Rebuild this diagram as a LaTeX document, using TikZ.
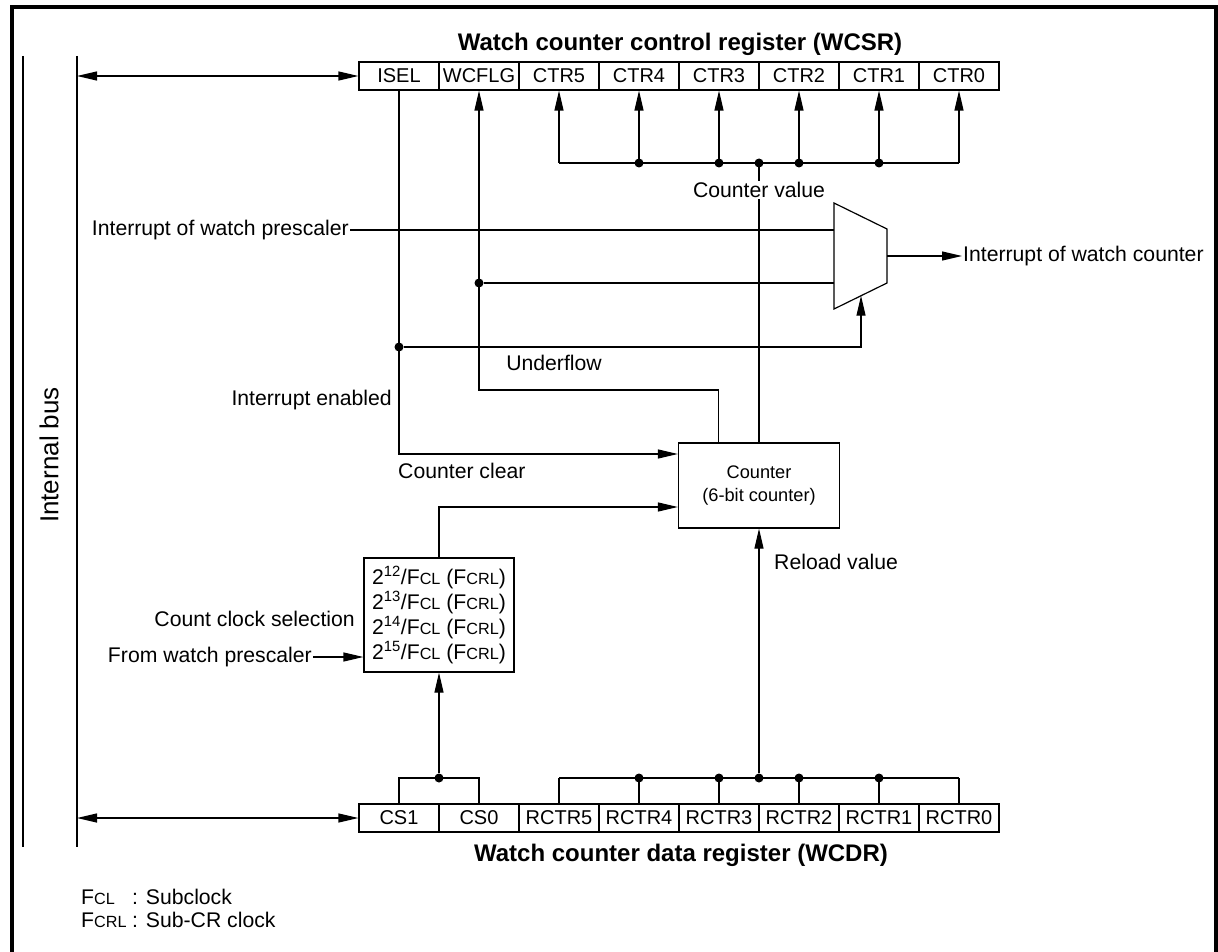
\documentclass[tikz,border=0pt]{standalone}
\usepackage{fontspec}
\setmainfont{Liberation Sans}
\usetikzlibrary{arrows.meta,calc}

\newcommand\lblfont{\fontsize{21.2}{25}\selectfont}
\newcommand\busfont{\fontsize{26}{30}\selectfont}
\newcommand\cellfont{\fontsize{20}{23}\selectfont}
\newcommand\ttlfont{\fontsize{24}{28}\selectfont\bfseries}
\newcommand\cntfont{\fontsize{18.2}{23}\selectfont}
\newcommand\lowcaps[1]{{\fontsize{16.2}{15}\selectfont #1}}

\tikzset{
  wire/.style={line width=1.2pt},
  arr/.style={wire,-{Triangle[length=20pt,width=9pt]}},
  biarr/.style={wire,{Triangle[length=20pt,width=9pt]}-{Triangle[length=20pt,width=9pt]}},
  regcell/.style={draw,line width=1.2pt,minimum width=80pt,minimum height=28pt,inner sep=0pt,font=\cellfont},
  lbl/.style={inner sep=1pt,font=\lblfont},
  ttl/.style={inner sep=1pt,font=\ttlfont},
  junct/.style={circle,fill,inner sep=0pt,minimum size=9pt},
  blk/.style={draw,line width=1.2pt,inner sep=0pt},
}

\begin{document}
\begin{tikzpicture}[x=1pt,y=-1pt]
\useasboundingbox (0,0) rectangle (1218,952);

% outer frame (open at the bottom)
\draw[line width=3.5pt] (12,980) -- (12,7) -- (1216,7) -- (1216,980);

% internal bus
\draw[wire] (23,56) -- (23,847);
\draw[wire] (77,56) -- (77,847);
\node[inner sep=1pt,font=\busfont,rotate=90] (ibus) at (49,455) {Internal bus};
\coordinate (busT) at (77,76);
\coordinate (busB) at (77,818);

% watch counter control register
\node[ttl] (wcsr) at (680,44) {Watch counter control register (WCSR)};
\foreach \n/\t [count=\i from 0] in {isel/ISEL,wcflg/WCFLG,ctr5/CTR5,ctr4/CTR4,ctr3/CTR3,ctr2/CTR2,ctr1/CTR1,ctr0/CTR0}
  \node[regcell] (\n) at (399+80*\i,76) {\t};

% watch counter data register
\node[ttl] (wcdr) at (681,855) {Watch counter data register (WCDR)};
\foreach \n/\t [count=\i from 0] in {cs1/CS1,cs0/CS0,rctr5/RCTR5,rctr4/RCTR4,rctr3/RCTR3,rctr2/RCTR2,rctr1/RCTR1,rctr0/RCTR0}
  \node[regcell] (\n) at (399+80*\i,818) {\t};

\draw[biarr] (busT) -- (isel.west);
\draw[biarr] (busB) -- (cs1.west);

% counter
\node[blk,minimum width=161pt,minimum height=85pt,align=center,font=\cntfont] (cnt) at (759,485.5) {Counter\\(6-bit counter)};

% counter value distribution
\coordinate (cv) at (759,163);
\node[lbl] (cvl) at (759,190) {Counter value};
\draw[wire] (ctr5 |- cv) -- (ctr0 |- cv);
\foreach \n in {ctr5,ctr4,ctr3,ctr2,ctr1,ctr0}
  \draw[arr] (\n |- cv) -- (\n.south);
\foreach \n in {ctr4,ctr3,ctr2,ctr1}
  \node[junct] (cvd-\n) at (\n |- cv) {};
\node[junct] (cvd) at (cv) {};
\draw[wire] (cv) -- (cvl.north);
\draw[wire] (cvl.south) -- (cnt.north);

% interrupt selector
\coordinate (m1) at (834,203);
\coordinate (m2) at (887,229);
\coordinate (m3) at (887,283);
\coordinate (m4) at (834,309);
\draw[wire] (m1) -- (m2) -- (m3) -- (m4) -- cycle;
\coordinate (msel) at ($(m4)!0.51!(m3)$);
\coordinate (mout) at ($(m2)!0.5!(m3)$);

\node[lbl,anchor=east] (iwp) at (350,230) {Interrupt of watch prescaler};
\draw[wire] (iwp.east) -- (iwp.east -| m1);
\node[lbl,anchor=west] (iwc) at (962,256) {Interrupt of watch counter};
\draw[arr] (mout) -- (iwc.west);

% underflow flag
\coordinate (uf) at (0,390);
\draw[arr] ($(cnt.north west)+(40.5,0)$) |- (wcflg.south |- uf) -- (wcflg.south);
\node[junct] (ufd) at (wcflg.south |- m3) {};
\draw[wire] (ufd) -- (ufd -| m4);
\node[lbl] (ufl) at (554,363) {Underflow};

% interrupt select / counter clear
\coordinate (ie) at (0,347);
\draw[arr] (isel.south) |- (cnt.west |- 0,454);
\node[junct] (ied) at (isel.south |- ie) {};
\draw[arr] (ied) -| (msel);
\node[lbl,anchor=east] (iel) at (393,400) {Interrupt enabled};
\node[lbl,anchor=west] (ccl) at (397,471) {Counter clear};

% count clock selection
\node[blk,minimum width=150pt,minimum height=114pt,align=left,font=\lblfont] (clk) at (439,615)
  {2\textsuperscript{12}/F\lowcaps{CL} (F\lowcaps{CRL})\\
   2\textsuperscript{13}/F\lowcaps{CL} (F\lowcaps{CRL})\\
   2\textsuperscript{14}/F\lowcaps{CL} (F\lowcaps{CRL})\\
   2\textsuperscript{15}/F\lowcaps{CL} (F\lowcaps{CRL})};
\draw[arr] (clk.north) |- (cnt.west |- 0,507);
\node[lbl,anchor=east] (ccs) at (356,619) {Count clock selection};
\node[lbl,anchor=east] (fwp) at (313,657) {From watch prescaler};
\draw[arr] (fwp.east) -- (clk.west |- fwp.east);

\coordinate (csj) at (439,778);
\draw[wire] (cs1.north) |- (csj) -| (cs0.north);
\node[junct] (csd) at (csj) {};
\draw[arr] (csd) -- (clk.south);

% reload value
\coordinate (rv) at (759,778);
\draw[wire] (rctr5 |- rv) -- (rctr0 |- rv);
\foreach \n in {rctr5,rctr4,rctr3,rctr2,rctr1,rctr0}
  \draw[wire] (\n.north) -- (\n |- rv);
\foreach \n in {rctr4,rctr3,rctr2,rctr1}
  \node[junct] (rvd-\n) at (\n |- rv) {};
\node[junct] (rvd) at (rv) {};
\draw[arr] (rvd) -- (cnt.south);
\node[lbl,anchor=west] (rvl) at (773,562) {Reload value};

% legend
\node[lbl,anchor=west] (lg1a) at (80,897) {F\lowcaps{CL}};
\node[lbl,anchor=west] (lg1b) at (131,897) {: Subclock};
\node[lbl,anchor=west] (lg2a) at (80,920) {F\lowcaps{CRL}};
\node[lbl,anchor=west] (lg2b) at (131,920) {: Sub-CR clock};
\end{tikzpicture}
\end{document}
